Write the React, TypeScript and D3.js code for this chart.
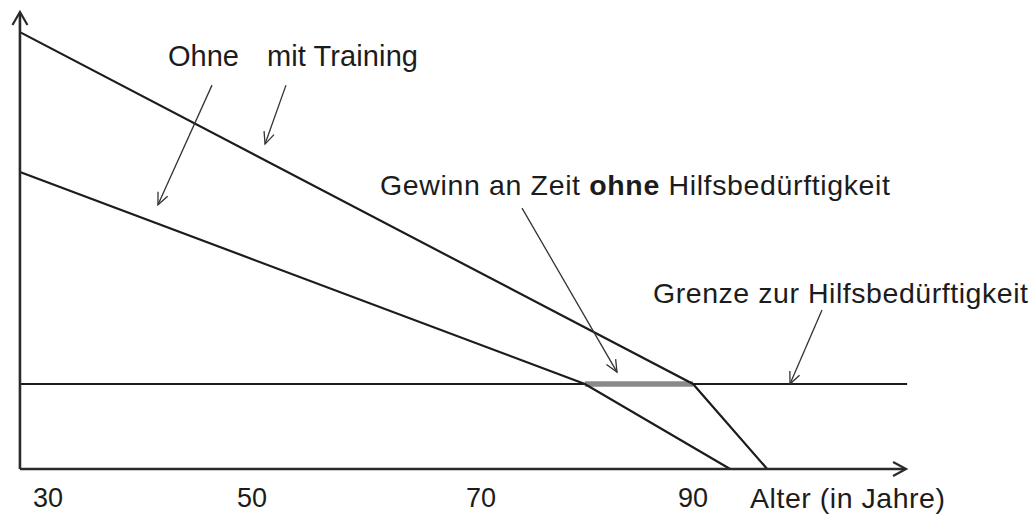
import React from "react";
import * as d3 from "d3";

// ---- data (schematic: age in years vs. functional capacity in arbitrary units) ----
const tickAges = [30, 50, 70, 90];
const tickPixels = [48, 252, 481, 693]; // where the reference places its age labels
const axisStartAge = 27.25;
const axisEndAge = 110.1;
const capacityMax = 100;
const thresholdValue = 18.6;
const thresholdEndAge = 110.2;

const mitTrainingAges = [27.25, 90, 97];
const mitTrainingValues = [95.6, 18.6, 0];
const ohneAges = [27.25, 79.8, 93.5];
const ohneValues = [65, 18.6, 0];

// annotation arrows: [fromAge, fromValue, toAge, toValue]
const arrowOhne = [46.08, 84.0, 40.78, 57.8];
const arrowMit = [52.97, 84.0, 51.14, 71.1];
const arrowGewinn = [73.87, 57.1, 82.83, 21.2];
const arrowGrenze = [102.17, 34.8, 99.15, thresholdValue];

const labelOhne = "Ohne";
const labelMit = "mit Training";
const labelGewinnA = "Gewinn an Zeit ";
const labelGewinnB = "ohne";
const labelGewinnC = " Hilfsbedürftigkeit";
const labelGrenze = "Grenze zur Hilfsbedürftigkeit";
const labelX = "Alter (in Jahre)";

const W = 1034;
const H = 516;
const FONT = "'Liberation Sans', Arial, Helvetica, sans-serif";
const INK = "#1c1c1c";

export default function App() {
  const x = d3.scaleLinear().domain(tickAges).range(tickPixels);
  const y = d3.scaleLinear().domain([0, capacityMax]).range([469, 12]);

  const line = d3
    .line<[number, number]>()
    .x((d) => x(d[0]))
    .y((d) => y(d[1]));

  const mit: [number, number][] = mitTrainingAges.map((a, i) => [a, mitTrainingValues[i]]);
  const ohne: [number, number][] = ohneAges.map((a, i) => [a, ohneValues[i]]);

  const x0 = x(axisStartAge);
  const y0 = y(0);
  const xEnd = x(axisEndAge);
  const yTop = y(capacityMax);
  const yThr = y(thresholdValue);

  const arrow = (a: number[], key: string) => {
    const x1 = x(a[0]);
    const y1 = y(a[1]);
    const x2 = x(a[2]);
    const y2 = y(a[3]);
    const ang = Math.atan2(y2 - y1, x2 - x1);
    const L = 13;
    const spread = (24 * Math.PI) / 180;
    const w1x = x2 - L * Math.cos(ang - spread);
    const w1y = y2 - L * Math.sin(ang - spread);
    const w2x = x2 - L * Math.cos(ang + spread);
    const w2y = y2 - L * Math.sin(ang + spread);
    return (
      <g key={key} stroke="#333" strokeWidth={1.3} fill="none">
        <line x1={x1} y1={y1} x2={x2} y2={y2} />
        <path d={`M${w1x},${w1y}L${x2},${y2}L${w2x},${w2y}`} />
      </g>
    );
  };

  const gainStart = x(ohneAges[1]);
  const gainEnd = x(mitTrainingAges[1]);

  return (
    <svg
      width={W}
      height={H}
      style={{ position: "fixed", left: 0, top: 0, background: "#fff" }}
      fontFamily={FONT}
    >
      {/* threshold line */}
      <line x1={x0} y1={yThr} x2={x(thresholdEndAge)} y2={yThr} stroke={INK} strokeWidth={2.2} />
      {/* gain segment */}
      <line x1={gainStart} y1={yThr} x2={gainEnd} y2={yThr} stroke="#8a8a8a" strokeWidth={5.5} />

      {/* curves */}
      <path d={line(mit) || ""} fill="none" stroke={INK} strokeWidth={2.2} strokeLinejoin="miter" />
      <path d={line(ohne) || ""} fill="none" stroke={INK} strokeWidth={2.2} strokeLinejoin="miter" />

      {/* axes */}
      <g stroke="#2a2a2a" strokeWidth={2.6} fill="none">
        <line x1={x0} y1={y0} x2={x0} y2={yTop + 1} />
        <line x1={x0} y1={y0} x2={xEnd - 1} y2={y0} />
        <path d={`M${x0 - 7.5},${yTop + 13}L${x0},${yTop}L${x0 + 7.5},${yTop + 13}`} strokeWidth={2.2} />
        <path d={`M${xEnd - 13},${y0 - 7}L${xEnd},${y0}L${xEnd - 13},${y0 + 7}`} strokeWidth={2.2} />
      </g>

      {/* tick labels */}
      {tickAges.map((t) => (
        <text key={t} x={x(t)} y={507} textAnchor="middle" fontSize={27} fill={INK}>
          {t}
        </text>
      ))}
      <text x={750} y={508} fontSize={28.5} fill={INK} textLength={195} lengthAdjust="spacing">
        {labelX}
      </text>

      {/* annotations */}
      <text x={168} y={66} fontSize={29} fill={INK} textLength={71} lengthAdjust="spacing">
        {labelOhne}
      </text>
      <text x={267} y={66} fontSize={29} fill={INK} textLength={151} lengthAdjust="spacing">
        {labelMit}
      </text>
      <text x={380} y={195} fontSize={28.5} fill={INK} textLength={510} lengthAdjust="spacing">
        {labelGewinnA}
        <tspan fontWeight="bold">{labelGewinnB}</tspan>
        {labelGewinnC}
      </text>
      <text x={653} y={303} fontSize={28.5} fill={INK} textLength={375} lengthAdjust="spacing">
        {labelGrenze}
      </text>

      {arrow(arrowOhne, "ohne")}
      {arrow(arrowMit, "mit")}
      {arrow(arrowGewinn, "gewinn")}
      {arrow(arrowGrenze, "grenze")}
    </svg>
  );
}
